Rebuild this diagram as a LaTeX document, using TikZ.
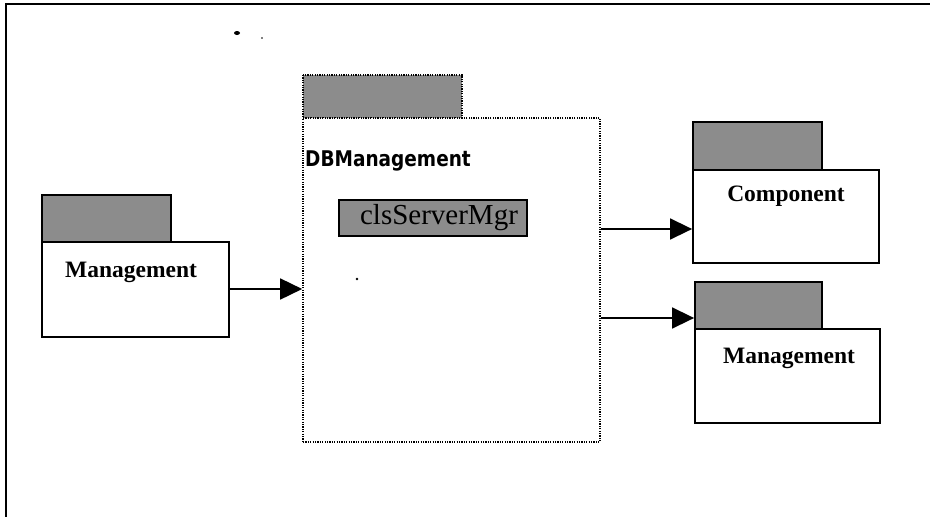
\documentclass[tikz,border=0pt]{standalone}
\usepackage{fontspec}
\setmainfont{Liberation Serif}
\newfontfamily\pkgsans{DejaVu Sans}
\usetikzlibrary{arrows.meta}
\tikzset{
  x=1pt, y=-1pt,
  tabfill/.style={draw=black, line width=1.8pt, fill=black!45},
  pkgbody/.style={draw=black, line width=1.8pt, fill=white},
  dotline/.style={line width=1.6pt, dash pattern=on 1.2pt off 1.2pt},
  pkglabel/.style={font=\bfseries\fontsize{23.5}{26}\selectfont, anchor=center, inner sep=0pt},
  dep/.style={line width=1.6pt, -{Triangle[length=22pt,width=21pt]}},
}
\begin{document}
\begin{tikzpicture}
\useasboundingbox (0,0) rectangle (930,517);
% outer frame: top and left edges
\draw[line width=2pt] (6,517) -- (6,4) -- (930,4);
% stray marks
\fill (237,33) ellipse (3 and 2);
\fill (262,38) circle (0.9);

% Management (left)
\filldraw[tabfill] (42,195) rectangle (171,242);
\node[pkgbody, minimum width=187pt, minimum height=95pt, inner sep=0pt] (mgmtL) at (135.5,289.5) {};
\node[pkglabel] at (131,272) {Management};

% DBManagement
\draw[dotline, fill=black!45] (303,75) rectangle (462,118);
\node[draw=black, dotline, fill=white, minimum width=297pt, minimum height=324pt, inner sep=0pt] (db) at (451.5,280) {};
\node[font=\pkgsans\bfseries\fontsize{18.5}{21}\selectfont, anchor=base west, inner sep=0pt] at (305,166)
  {\scalebox{1}[1.17]{DBManagement}};
\node[draw=black, line width=1.8pt, fill=black!45, minimum width=188pt, minimum height=36pt, inner sep=0pt] (srv) at (433,218) {};
\node[font=\fontsize{29}{30}\selectfont, inner sep=0pt] at (439,218) {clsServerMgr};
\fill (357,279) circle (1.4);

% Component
\filldraw[tabfill] (693,122) rectangle (822,170);
\node[pkgbody, minimum width=186pt, minimum height=93pt, inner sep=0pt] (comp) at (786,216.5) {};
\node[pkglabel] at (786,196) {Component};

% Management (right)
\filldraw[tabfill] (695,282) rectangle (822,329);
\node[pkgbody, minimum width=185pt, minimum height=94pt, inner sep=0pt] (mgmtR) at (787.5,376) {};
\node[pkglabel] at (789,358) {Management};

% dependencies
\draw[dep] (mgmtL.east |- 0,289) -- (db.west |- 0,289);
\draw[dep] (db.east |- 0,229) -- (comp.west |- 0,229);
\draw[dep] (db.east |- 0,318) -- (mgmtR.west |- 0,318);
\end{tikzpicture}
\end{document}
